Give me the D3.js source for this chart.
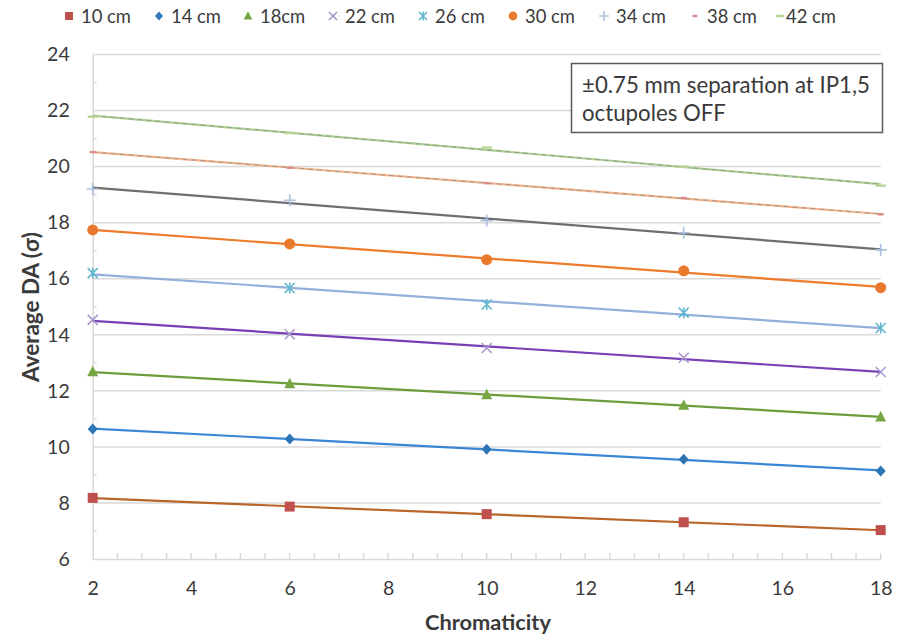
<!DOCTYPE html>
<html>
<head>
<meta charset="utf-8">
<script src="https://cdn.jsdelivr.net/npm/d3@7"></script>
<style>
  html, body { margin: 0; padding: 0; background: #fff; }
  svg { display: block; font-family: Lato, "Open Sans", sans-serif; }
</style>
</head>
<body>
<svg id="chart" width="904" height="637"></svg>
<script>
// Chromaticity settings scanned
const chromaticity = [2, 6, 10, 14, 18];

// Series names (beta* values)
const seriesNames = ["10 cm", "14 cm", "18cm", "22 cm", "26 cm", "30 cm", "34 cm", "38 cm", "42 cm"];

// Average dynamic aperture (sigma) per series, one value per chromaticity
const da10 = [8.18, 7.87, 7.60, 7.31, 7.03];
const da14 = [10.64, 10.28, 9.92, 9.56, 9.14];
const da18 = [12.68, 12.25, 11.86, 11.49, 11.07];
const da22 = [14.53, 14.02, 13.53, 13.18, 12.67];
const da26 = [16.20, 15.67, 15.08, 14.79, 14.24];
const da30 = [17.74, 17.24, 16.68, 16.28, 15.68];
const da34 = [19.20, 18.80, 18.07, 17.64, 17.03];
const da38 = [20.52, 19.96, 19.41, 18.88, 18.30];
const da42 = [21.78, 21.20, 20.68, 20.00, 19.32];

const daValues = [da10, da14, da18, da22, da26, da30, da34, da38, da42];

// Tick labels
const xTicks = [2, 4, 6, 8, 10, 12, 14, 16, 18];
const yTicks = [6, 8, 10, 12, 14, 16, 18, 20, 22, 24];

// Styling per series: marker shape, marker colour, trendline colour
const markerShapes = ["square", "diamond", "triangle", "cross", "star", "circle", "plus", "dash", "longdash"];
const markerColors = ["#c0504d", "#2e75b6", "#77a643", "#a898cc", "#5fb8cf", "#e9792c", "#a9c0de", "#db8a8e", "#b9d696"];
const lineColors   = ["#b8652a", "#3b86d3", "#6e9c3c", "#7a3fb5", "#93b0dc", "#ee7a2b", "#6f6f6f", "#f5b48a", "#acd090"];
const dashedOverlay = [false, false, false, false, false, false, false, true, true];

const svg = d3.select("#chart");

const x = d3.scaleLinear().domain([2, 18]).range([92.7, 880.7]);
const y = d3.scaleLinear().domain([6, 24]).range([559, 54.5]);

const textColor = "#3a3a3a";
const gridColor = "#d9d9d9";

// Scale a text element's font size so that it spans the given width
function fitWidth(sel, width) {
  const node = sel.node();
  const fs = parseFloat(sel.attr("font-size"));
  const w = node.getComputedTextLength();
  const nfs = fs * width / w;
  sel.attr("font-size", nfs);
  return nfs;
}

// Horizontal gridlines at major y ticks
svg.append("g")
  .selectAll("line")
  .data(yTicks.filter(v => v > 6))
  .join("line")
  .attr("x1", x(2)).attr("x2", x(18))
  .attr("y1", d => y(d)).attr("y2", d => y(d))
  .attr("stroke", gridColor).attr("stroke-width", 1.5);

// Y axis: line, minor ticks at odd values pointing inward, labels
const yAxis = d3.axisLeft(y).tickValues(yTicks).tickSize(0).tickPadding(23).tickFormat(d3.format("d"));
const gy = svg.append("g").attr("transform", `translate(${x(2)},0)`).call(yAxis);
gy.select(".domain").attr("stroke", gridColor).attr("stroke-width", 1.5);
gy.selectAll("text").attr("fill", textColor).attr("font-size", 19.5).attr("font-family", "Lato, sans-serif");

svg.append("g")
  .selectAll("line")
  .data(d3.range(7, 24, 2))
  .join("line")
  .attr("x1", x(2)).attr("x2", x(2) + 4)
  .attr("y1", d => y(d)).attr("y2", d => y(d))
  .attr("stroke", gridColor).attr("stroke-width", 1.5);

// X axis: line, ticks every 0.5 pointing inward, labels
const xAxis = d3.axisBottom(x).tickValues(xTicks).tickSize(0).tickPadding(22).tickFormat(d3.format("d"));
const gx = svg.append("g").attr("transform", `translate(0,${y(6)})`).call(xAxis);
gx.select(".domain").attr("stroke", gridColor).attr("stroke-width", 1.5);
gx.selectAll("text").attr("fill", textColor).attr("font-size", 19.5).attr("font-family", "Lato, sans-serif");

svg.append("g")
  .selectAll("line")
  .data(d3.range(2.5, 18.01, 0.5))
  .join("line")
  .attr("x1", d => x(d)).attr("x2", d => x(d))
  .attr("y1", y(6)).attr("y2", y(6) - 6)
  .attr("stroke", gridColor).attr("stroke-width", 1.5);

// Axis titles
const xTitle = svg.append("text")
  .attr("x", 488).attr("y", 630)
  .attr("text-anchor", "middle")
  .attr("font-size", 18).attr("font-weight", "bold")
  .attr("fill", textColor)
  .text("Chromaticity");
fitWidth(xTitle, 126);

const yTitle = svg.append("text")
  .attr("transform", "translate(39,307) rotate(-90)")
  .attr("text-anchor", "middle")
  .attr("font-size", 18).attr("font-weight", "bold")
  .attr("fill", textColor)
  .text("Average DA (σ)");
fitWidth(yTitle, 150);

// Least-squares linear fit
function linearFit(xs, ys) {
  const mx = d3.mean(xs), my = d3.mean(ys);
  let num = 0, den = 0;
  xs.forEach((xv, i) => { num += (xv - mx) * (ys[i] - my); den += (xv - mx) ** 2; });
  const slope = num / den;
  return { slope, intercept: my - slope * mx };
}

// Marker drawing
function drawMarker(g, shape, color, cx, cy, scale = 1) {
  const s = scale;
  switch (shape) {
    case "square":
      g.append("rect").attr("x", cx - 5 * s).attr("y", cy - 5 * s).attr("width", 10 * s).attr("height", 10 * s).attr("fill", color);
      break;
    case "diamond":
      g.append("path").attr("d", `M${cx},${cy - 5.5 * s}L${cx + 5 * s},${cy}L${cx},${cy + 5.5 * s}L${cx - 5 * s},${cy}Z`).attr("fill", color);
      break;
    case "triangle":
      g.append("path").attr("d", `M${cx},${cy - 6 * s}L${cx + 5.5 * s},${cy + 4.5 * s}L${cx - 5.5 * s},${cy + 4.5 * s}Z`).attr("fill", color);
      break;
    case "cross":
      g.append("path").attr("d", `M${cx - 5 * s},${cy - 5 * s}L${cx + 5 * s},${cy + 5 * s}M${cx + 5 * s},${cy - 5 * s}L${cx - 5 * s},${cy + 5 * s}`)
        .attr("stroke", color).attr("stroke-width", 1.6).attr("fill", "none");
      break;
    case "star":
      g.append("path").attr("d", `M${cx - 5 * s},${cy - 5 * s}L${cx + 5 * s},${cy + 5 * s}M${cx + 5 * s},${cy - 5 * s}L${cx - 5 * s},${cy + 5 * s}M${cx},${cy - 5.5 * s}L${cx},${cy + 5.5 * s}`)
        .attr("stroke", color).attr("stroke-width", 1.6).attr("fill", "none");
      break;
    case "circle":
      g.append("circle").attr("cx", cx).attr("cy", cy).attr("r", 5.5 * s).attr("fill", color);
      break;
    case "plus":
      g.append("path").attr("d", `M${cx - 6 * s},${cy}L${cx + 6 * s},${cy}M${cx},${cy - 6 * s}L${cx},${cy + 6 * s}`)
        .attr("stroke", color).attr("stroke-width", 1.6).attr("fill", "none");
      break;
    case "dash":
      g.append("rect").attr("x", cx - 3 * s).attr("y", cy - 1.2).attr("width", 6 * s).attr("height", 2.4).attr("fill", color);
      break;
    case "longdash":
      g.append("rect").attr("x", cx - 5 * s).attr("y", cy - 1.2).attr("width", 10 * s).attr("height", 2.4).attr("fill", color);
      break;
  }
}

// Trendlines and markers for each series
const plot = svg.append("g");
daValues.forEach((vals, i) => {
  const fit = linearFit(chromaticity, vals);
  const f = v => fit.intercept + fit.slope * v;
  const g = plot.append("g");
  g.append("line")
    .attr("x1", x(2)).attr("y1", y(f(2)))
    .attr("x2", x(18)).attr("y2", y(f(18)))
    .attr("stroke", lineColors[i]).attr("stroke-width", 2.2);
  if (dashedOverlay[i]) {
    g.append("line")
      .attr("x1", x(2)).attr("y1", y(f(2)))
      .attr("x2", x(18)).attr("y2", y(f(18)))
      .attr("stroke", "#8a8a8a").attr("stroke-width", 0.9).attr("stroke-dasharray", "5,4").attr("opacity", 0.8);
  }
  vals.forEach((v, j) => drawMarker(g, markerShapes[i], markerColors[i], x(chromaticity[j]), y(v)));
});

// Legend
const legendX = [69, 159, 248, 333, 423, 513, 604, 695, 780];
const legend = svg.append("g");
seriesNames.forEach((name, i) => {
  drawMarker(legend, markerShapes[i], markerColors[i], legendX[i], 16, 0.8);
  const t = legend.append("text")
    .attr("x", legendX[i] + (i === 8 ? 6 : 12)).attr("y", 22.5)
    .attr("font-size", 18).attr("fill", textColor)
    .text(name);
  if (i === 0) fitWidth(t, 50);
});
legend.selectAll("text").attr("font-size", legend.select("text").attr("font-size"));

// Annotation box
const note = svg.append("g");
note.append("rect")
  .attr("x", 571.5).attr("y", 63.5).attr("width", 311).attr("height", 69)
  .attr("fill", "#fff").attr("stroke", "#5a5a5a").attr("stroke-width", 1.5);
const note1 = note.append("text").attr("x", 582).attr("y", 92.5).attr("font-size", 18).attr("fill", textColor)
  .text("±0.75 mm separation at IP1,5");
const noteSize = fitWidth(note1, 288);
note.append("text").attr("x", 582).attr("y", 121).attr("font-size", noteSize).attr("fill", textColor)
  .text("octupoles OFF");
</script>
</body>
</html>
